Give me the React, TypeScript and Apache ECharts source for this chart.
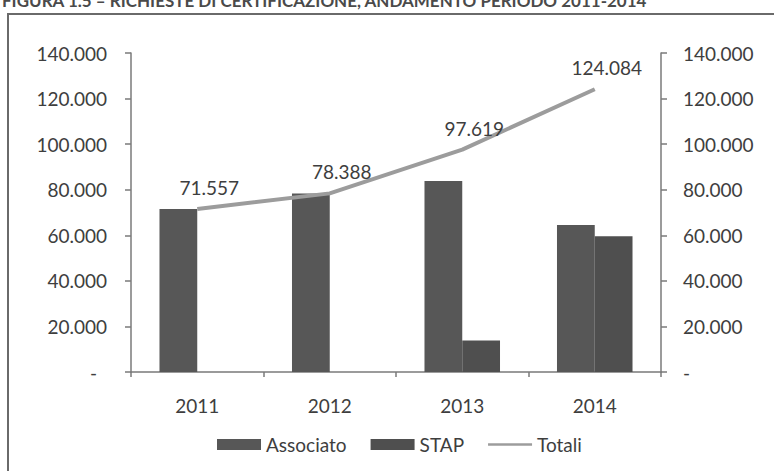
import React, { useEffect, useRef } from "react";
import * as echarts from "echarts";

const categories = ["2011", "2012", "2013", "2014"];
const associato = [71557, 78388, 83800, 64500];
const stap = [0, 0, 13819, 59584];
const totali = [71557, 78388, 97619, 124084];
const seriesNames = ["Associato", "STAP", "Totali"];
const titleText = "FIGURA 1.5 – RICHIESTE DI CERTIFICAZIONE, ANDAMENTO PERIODO 2011-2014";

const FONT = "Lato";
const TXT = "#3e3e3e";
const FS = 19;

function fmt(v: number): string {
  if (v === 0) return "-";
  const s = Math.round(v).toString();
  return s.replace(/\B(?=(\d{3})+(?!\d))/g, ".");
}

export default function App() {
  const ref = useRef<HTMLDivElement>(null);
  useEffect(() => {
    if (!ref.current) return;
    const chart = echarts.init(ref.current, null, { renderer: "svg" });
    const axisCommon = {
      type: "value" as const,
      min: 0,
      max: 140000,
      interval: 20000,
      splitLine: { show: false },
      axisLine: { show: true, lineStyle: { color: "#7a7a7a", width: 1.5 } },
      axisTick: { show: true, inside: false, length: 6, lineStyle: { color: "#7a7a7a", width: 1.5 } },
    };
    chart.setOption({
      animation: false,
      backgroundColor: "#ffffff",
      textStyle: { fontFamily: FONT },
      graphic: [
        {
          type: "rect",
          shape: { x: 8, y: 14, width: 900, height: 600 },
          style: { fill: "none", stroke: "#6a6a6a", lineWidth: 2 },
          silent: true,
        },
        {
          type: "text",
          x: 2,
          y: 9,
          style: {
            text: titleText,
            font: `bold 17px ${FONT}`,
            fill: "#4a4a4a",
            textVerticalAlign: "bottom",
          },
          silent: true,
        },
      ],
      grid: { left: 131, right: 113, top: 53, bottom: 99, containLabel: false },
      legend: {
        bottom: 12,
        left: 212,
        itemWidth: 44,
        itemHeight: 11,
        itemGap: 24,
        textStyle: { fontFamily: FONT, fontSize: FS, color: TXT },
        data: [
          { name: seriesNames[0], icon: "rect" },
          { name: seriesNames[1], icon: "rect" },
          { name: seriesNames[2], icon: "path://M0,0H44V2.6H0Z" },
        ],
      },
      xAxis: {
        type: "category",
        data: categories,
        axisLine: { lineStyle: { color: "#7a7a7a", width: 1.5 } },
        axisTick: { show: true, length: 5, lineStyle: { color: "#7a7a7a", width: 1.5 } },
        axisLabel: { color: TXT, fontSize: FS, fontFamily: FONT, margin: 24 },
      },
      yAxis: [
        {
          ...axisCommon,
          position: "left",
          axisLabel: {
            color: TXT,
            fontSize: FS,
            fontFamily: FONT,
            margin: 24,
            formatter: (v: number) => (v === 0 ? "{z|-}" : fmt(v)),
            rich: { z: { fontSize: FS, fontFamily: FONT, color: TXT, padding: [0, 10, 0, 0] } },
          },
        },
        {
          ...axisCommon,
          position: "right",
          axisLabel: {
            color: TXT,
            fontSize: FS,
            fontFamily: FONT,
            margin: 22,
            formatter: (v: number) => fmt(v),
          },
        },
      ],
      series: [
        {
          name: seriesNames[0],
          type: "bar",
          data: associato,
          barCategoryGap: "43%",
          barGap: "0%",
          itemStyle: { color: "#575757" },
          yAxisIndex: 0,
        },
        {
          name: seriesNames[1],
          type: "bar",
          data: stap,
          barCategoryGap: "43%",
          barGap: "0%",
          itemStyle: { color: "#4f4f4f" },
          yAxisIndex: 0,
        },
        {
          name: seriesNames[2],
          type: "line",
          data: totali,
          yAxisIndex: 1,
          symbol: "none",
          lineStyle: { color: "#9c9c9c", width: 4 },
          itemStyle: { color: "#9c9c9c" },
          z: 5,
        },
        {
          name: "TotaliLabels",
          type: "scatter",
          data: totali,
          yAxisIndex: 1,
          symbolSize: 0,
          silent: true,
          itemStyle: { color: "#ffffff", opacity: 0 },
          label: {
            show: true,
            position: "top",
            distance: 12,
            offset: [12, 0],
            color: TXT,
            opacity: 1,
            textBorderWidth: 0,
            fontSize: FS,
            fontFamily: FONT,
            formatter: (p: any) => fmt(p.value),
          },
          z: 6,
        },
      ],
    });
    return () => chart.dispose();
  }, []);
  return (
    <div
      ref={ref}
      style={{ position: "fixed", left: 0, top: 0, width: 774, height: 471 }}
    />
  );
}
